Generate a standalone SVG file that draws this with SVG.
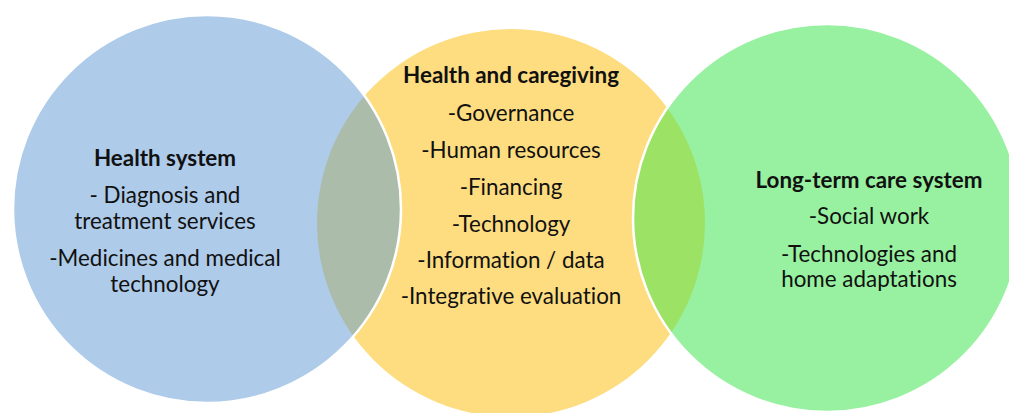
<svg xmlns="http://www.w3.org/2000/svg" width="1009" height="413" viewBox="0 0 1009 413">
  <style>
    text { font-family: Lato, "Open Sans", "Liberation Sans", sans-serif; font-size: 22.4px; fill: #111; text-anchor: middle; font-variant-ligatures: none; }
    .title { font-weight: bold; }
    .edge { fill: none; stroke: #fff; stroke-width: 2.5; }
  </style>
  <defs>
    <clipPath id="clipBlue"><circle cx="207" cy="209" r="194"/></clipPath>
    <clipPath id="clipGreen"><circle cx="827" cy="218" r="194"/></clipPath>
  </defs>
  <rect width="1009" height="413" fill="#fff"/>
  <g id="circles">
    <circle id="yellow" cx="511" cy="223" r="194" fill="#FEDD80"/>
    <circle id="blue" cx="207" cy="209" r="194" fill="#AECBE9"/>
    <circle id="green" cx="827" cy="218" r="194" fill="#98F1A0"/>
    <circle cx="511" cy="223" r="194" fill="#ABBCAA" clip-path="url(#clipBlue)"/>
    <circle cx="511" cy="223" r="194" fill="#9CE265" clip-path="url(#clipGreen)"/>
    <circle class="edge" cx="207" cy="209" r="194"/>
    <circle class="edge" cx="827" cy="218" r="194"/>
  </g>
  <g id="connectors"/>
  <g id="health-system">
    <text class="title" x="165" y="166">Health system</text>
    <text x="165" y="203">- Diagnosis and</text>
    <text x="165" y="229">treatment services</text>
    <text x="165" y="266">-Medicines and medical</text>
    <text x="165" y="292">technology</text>
  </g>
  <g id="health-caregiving">
    <text class="title" x="511" y="83">Health and caregiving</text>
    <text x="511" y="121">-Governance</text>
    <text x="511" y="158">-Human resources</text>
    <text x="511" y="195">-Financing</text>
    <text x="511" y="232">-Technology</text>
    <text x="511" y="268">-Information / data</text>
    <text x="511" y="304">-Integrative evaluation</text>
  </g>
  <g id="long-term-care">
    <text class="title" x="869" y="188">Long-term care system</text>
    <text x="869" y="224">-Social work</text>
    <text x="869" y="262">-Technologies and</text>
    <text x="869" y="287">home adaptations</text>
  </g>
</svg>
